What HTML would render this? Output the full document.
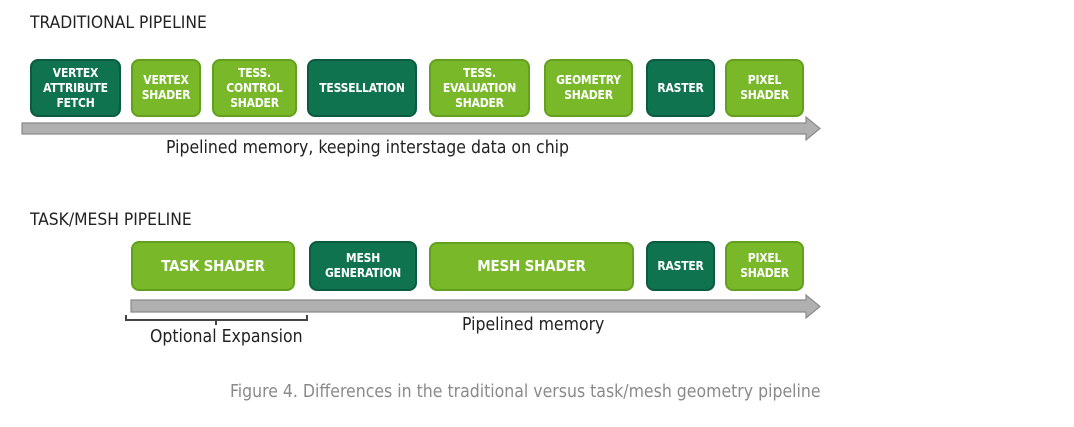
<!DOCTYPE html>
<html><head><style>
body{margin:0;width:1074px;height:427px;background:#fff;position:relative;overflow:hidden;font-family:"DejaVu Sans Condensed","Liberation Sans",sans-serif;}
.b{position:absolute;box-sizing:border-box;border-radius:8px;color:#fff;display:flex;align-items:center;justify-content:center;text-align:center;font-size:12px;line-height:15px;font-weight:bold;letter-spacing:-0.2px}
.d{background:#0f7350;border:2px solid #0b5b3f}
.l{background:#79b829;border:2px solid #63a01d}
.t{position:absolute;color:#222;white-space:nowrap}
</style></head><body>
<div class="t" style="left:30px;top:13px;font-size:17.3px;">TRADITIONAL PIPELINE</div>
<div class="t" style="left:30px;top:210px;font-size:17.3px;">TASK/MESH PIPELINE</div>

<div class="b d" style="left:30px;top:59px;width:91px;height:58px">VERTEX<br>ATTRIBUTE<br>FETCH</div>
<div class="b l" style="left:131px;top:59px;width:70px;height:58px">VERTEX<br>SHADER</div>
<div class="b l" style="left:212px;top:59px;width:85px;height:58px">TESS.<br>CONTROL<br>SHADER</div>
<div class="b d" style="left:307px;top:59px;width:110px;height:58px">TESSELLATION</div>
<div class="b l" style="left:429px;top:59px;width:101px;height:58px">TESS.<br>EVALUATION<br>SHADER</div>
<div class="b l" style="left:544px;top:59px;width:89px;height:58px">GEOMETRY<br>SHADER</div>
<div class="b d" style="left:646px;top:59px;width:69px;height:58px">RASTER</div>
<div class="b l" style="left:725px;top:59px;width:79px;height:58px">PIXEL<br>SHADER</div>

<div class="b l" style="left:131px;top:241px;width:164px;height:50px;font-size:15px">TASK SHADER</div>
<div class="b d" style="left:309px;top:241px;width:108px;height:50px">MESH<br>GENERATION</div>
<div class="b l" style="left:429px;top:242px;width:205px;height:49px;font-size:15px">MESH SHADER</div>
<div class="b d" style="left:646px;top:241px;width:69px;height:50px">RASTER</div>
<div class="b l" style="left:725px;top:241px;width:79px;height:50px">PIXEL<br>SHADER</div>

<svg width="1074" height="427" style="position:absolute;left:0;top:0">
<polygon points="22,123 806,123 806,117 820,128.5 806,140 806,134 22,134" fill="#b0b0b0" stroke="#8a8a8a" stroke-width="1.2"/>
<polygon points="131,300 806,300 806,295 820,306.5 806,318 806,312 131,312" fill="#b0b0b0" stroke="#8a8a8a" stroke-width="1.2"/>
<path d="M126,315 V320 H307 V315 M216,320 V325" fill="none" stroke="#444" stroke-width="2"/>
</svg>

<div class="t" style="left:166px;top:138px;font-size:17.5px;">Pipelined memory, keeping interstage data on chip</div>
<div class="t" style="left:462px;top:315px;font-size:17.5px;">Pipelined memory</div>
<div class="t" style="left:150px;top:327px;font-size:17.5px;">Optional Expansion</div>
<div class="t" style="left:230px;top:382px;font-size:17.5px;color:#8a8a8a;">Figure 4. Differences in the traditional versus task/mesh geometry pipeline</div>
</body></html>
